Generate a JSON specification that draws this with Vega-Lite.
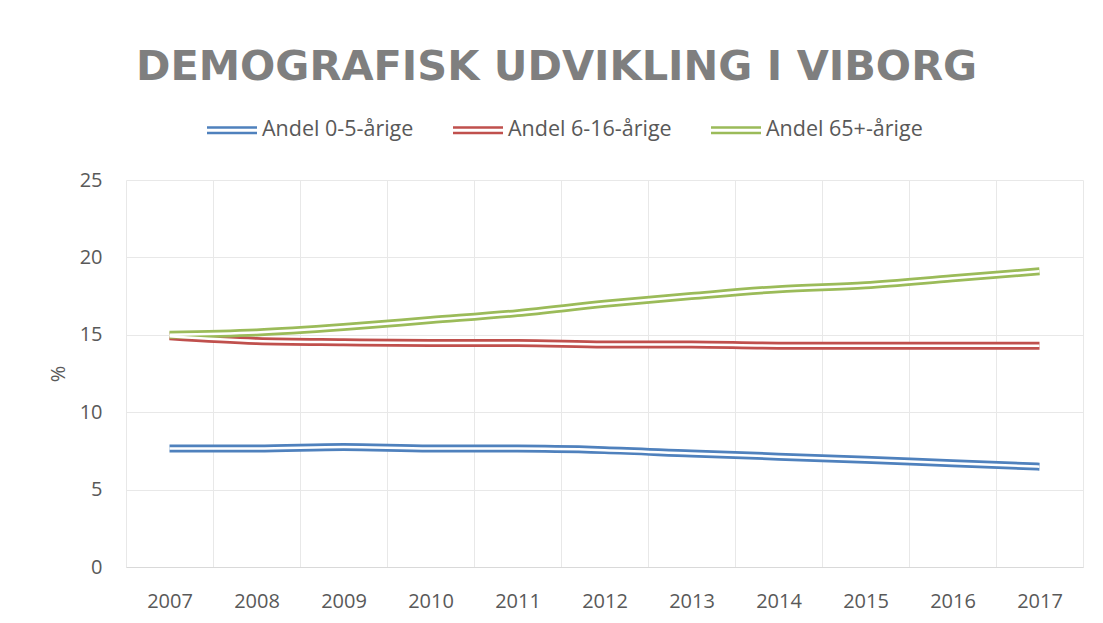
{
  "$schema": "https://vega.github.io/schema/vega-lite/v6.json",
  "autosize": "none",
  "width": 957,
  "height": 387,
  "padding": {"left": 126, "top": 180, "right": 20, "bottom": 56},
  "background": "white",
  "title": {
    "text": "DEMOGRAFISK UDVIKLING I VIBORG",
    "font": "DejaVu Sans",
    "fontSize": 41.5,
    "fontWeight": "bold",
    "color": "#7f7f7f",
    "anchor": "middle",
    "frame": "bounds",
    "dx": -9,
    "offset": 17
  },
  "config": {
    "font": "Open Sans",
    "view": {"stroke": null},
    "axis": {"labelFont": "Open Sans", "titleFont": "Open Sans"},
    "legend": {"labelFont": "Open Sans"}
  },
  "data": {
    "values": [
      {"year": "2007", "series": "Andel 0-5-årige", "value": 7.65},
      {"year": "2008", "series": "Andel 0-5-årige", "value": 7.65},
      {"year": "2009", "series": "Andel 0-5-årige", "value": 7.75},
      {"year": "2010", "series": "Andel 0-5-årige", "value": 7.65},
      {"year": "2011", "series": "Andel 0-5-årige", "value": 7.65},
      {"year": "2012", "series": "Andel 0-5-årige", "value": 7.55},
      {"year": "2013", "series": "Andel 0-5-årige", "value": 7.33},
      {"year": "2014", "series": "Andel 0-5-årige", "value": 7.13},
      {"year": "2015", "series": "Andel 0-5-årige", "value": 6.93},
      {"year": "2016", "series": "Andel 0-5-årige", "value": 6.7},
      {"year": "2017", "series": "Andel 0-5-årige", "value": 6.48},
      {"year": "2007", "series": "Andel 6-16-årige", "value": 14.9},
      {"year": "2008", "series": "Andel 6-16-årige", "value": 14.6},
      {"year": "2009", "series": "Andel 6-16-årige", "value": 14.52},
      {"year": "2010", "series": "Andel 6-16-årige", "value": 14.47},
      {"year": "2011", "series": "Andel 6-16-årige", "value": 14.47},
      {"year": "2012", "series": "Andel 6-16-årige", "value": 14.38},
      {"year": "2013", "series": "Andel 6-16-årige", "value": 14.37},
      {"year": "2014", "series": "Andel 6-16-årige", "value": 14.3},
      {"year": "2015", "series": "Andel 6-16-årige", "value": 14.3},
      {"year": "2016", "series": "Andel 6-16-årige", "value": 14.3},
      {"year": "2017", "series": "Andel 6-16-årige", "value": 14.3},
      {"year": "2007", "series": "Andel 65+-årige", "value": 15.0},
      {"year": "2008", "series": "Andel 65+-årige", "value": 15.15},
      {"year": "2009", "series": "Andel 65+-årige", "value": 15.5},
      {"year": "2010", "series": "Andel 65+-årige", "value": 15.95},
      {"year": "2011", "series": "Andel 65+-årige", "value": 16.4},
      {"year": "2012", "series": "Andel 65+-årige", "value": 17.0},
      {"year": "2013", "series": "Andel 65+-årige", "value": 17.5},
      {"year": "2014", "series": "Andel 65+-årige", "value": 17.95},
      {"year": "2015", "series": "Andel 65+-årige", "value": 18.2},
      {"year": "2016", "series": "Andel 65+-årige", "value": 18.65},
      {"year": "2017", "series": "Andel 65+-årige", "value": 19.1}
    ]
  },
  "encoding": {
    "x": {
      "field": "year",
      "type": "ordinal",
      "bandPosition": 0.5,
      "scale": {"type": "band", "paddingInner": 0, "paddingOuter": 0},
      "axis": {
        "title": null,
        "labelAngle": 0,
        "labelFontSize": 20,
        "labelColor": "#595959",
        "labelPadding": 24,
        "ticks": false,
        "tickBand": "extent",
        "grid": true,
        "gridColor": "#e8e8e8",
        "gridWidth": 1,
        "domainColor": "#d9d9d9",
        "domainWidth": 1
      }
    },
    "y": {
      "field": "value",
      "type": "quantitative",
      "scale": {"domain": [0, 25], "nice": false},
      "axis": {
        "title": "%",
        "titleFontSize": 20,
        "titleFontWeight": "normal",
        "titleColor": "#595959",
        "titlePadding": 11,
        "values": [0, 5, 10, 15, 20, 25],
        "labelFontSize": 20,
        "labelColor": "#595959",
        "labelPadding": 24,
        "ticks": false,
        "domain": false,
        "grid": true,
        "gridColor": "#e8e8e8",
        "gridWidth": 1
      }
    }
  },
  "layer": [
    {
      "mark": {"type": "line", "strokeWidth": 8, "interpolate": "monotone"},
      "encoding": {
        "color": {
          "field": "series",
          "type": "nominal",
          "scale": {
            "domain": ["Andel 0-5-årige", "Andel 6-16-årige", "Andel 65+-årige"],
            "range": ["#4f81bd", "#c0504d", "#9bbb59"]
          },
          "legend": {
            "title": null,
            "orient": "none",
            "legendX": 81,
            "legendY": -75,
            "direction": "horizontal",
            "symbolType": "M-1,-0.16H1V-0.06H-1Z M-1,0.06H1V0.16H-1Z",
            "symbolSize": 2500,
            "symbolStrokeWidth": 0,
            "labelFontSize": 21.5,
            "labelColor": "#595959",
            "labelOffset": 5,
            "labelLimit": 400,
            "columnPadding": 39,
            "encode": {
              "symbols": {
                "update": {
                  "fill": {"scale": "color", "field": "value"},
                  "fillOpacity": {"value": 1},
                  "strokeWidth": {"value": 0}
                }
              }
            }
          }
        }
      }
    },
    {
      "mark": {"type": "line", "strokeWidth": 2.5, "color": "white", "interpolate": "monotone"},
      "encoding": {
        "detail": {"field": "series", "type": "nominal"}
      }
    }
  ]
}
